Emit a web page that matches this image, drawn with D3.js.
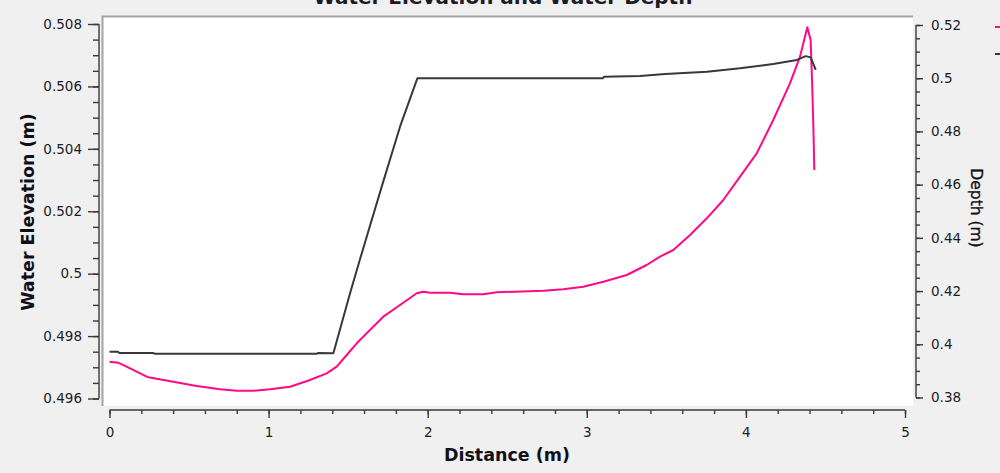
<!DOCTYPE html>
<html><head><meta charset="utf-8">
<script src="https://cdn.jsdelivr.net/npm/d3@7/dist/d3.min.js"></script>
<style>
body{margin:0;background:#f0f0f0;overflow:hidden}
svg{display:block}
text{font-family:"DejaVu Sans",Verdana,sans-serif}
</style>
</head><body>
<svg id="c" width="1000" height="473"></svg>
<script>
// ---- data ----
const elevDistance = [0, 0.053, 0.06, 0.273, 0.286, 1.304, 1.31, 1.407, 1.512, 1.579, 1.711, 1.826, 1.935, 2.454, 3.102, 3.108, 3.334, 3.492, 3.756, 3.963, 4.171, 4.321, 4.376, 4.407, 4.439];
const waterElevation = [0.4975, 0.4975, 0.49746, 0.49746, 0.49743, 0.49743, 0.49746, 0.49745, 0.49937, 0.50054, 0.50279, 0.50471, 0.50626, 0.50626, 0.50626, 0.50631, 0.50633, 0.5064, 0.50647, 0.50658, 0.50672, 0.50685, 0.50697, 0.50693, 0.50653];
const depthDistance = [0, 0.055, 0.129, 0.244, 0.401, 0.548, 0.695, 0.8, 0.904, 1.009, 1.135, 1.26, 1.365, 1.428, 1.491, 1.554, 1.637, 1.721, 1.826, 1.931, 1.972, 2.014, 2.14, 2.224, 2.349, 2.434, 2.727, 2.852, 2.978, 3.104, 3.251, 3.376, 3.46, 3.544, 3.649, 3.754, 3.858, 3.963, 4.068, 4.172, 4.277, 4.34, 4.386, 4.407, 4.417, 4.424, 4.43];
const waterDepth = [0.39345, 0.39308, 0.39097, 0.38759, 0.38594, 0.38432, 0.38308, 0.38256, 0.38256, 0.38308, 0.38406, 0.38658, 0.38909, 0.39158, 0.39597, 0.40037, 0.40537, 0.41037, 0.41476, 0.41916, 0.41976, 0.41939, 0.41939, 0.41879, 0.41879, 0.41954, 0.42014, 0.42066, 0.42164, 0.42352, 0.42604, 0.4298, 0.43292, 0.43544, 0.44107, 0.44735, 0.45423, 0.46299, 0.47178, 0.4843, 0.49809, 0.50809, 0.51914, 0.51436, 0.49681, 0.48178, 0.4655];
const xTicks = [0, 1, 2, 3, 4, 5];
const xTickLabels = ["0", "1", "2", "3", "4", "5"];
const leftTicks = [0.496, 0.498, 0.5, 0.502, 0.504, 0.506, 0.508];
const leftTickLabels = ["0.496", "0.498", "0.5", "0.502", "0.504", "0.506", "0.508"];
const rightTicks = [0.38, 0.4, 0.42, 0.44, 0.46, 0.48, 0.5, 0.52];
const rightTickLabels = ["0.38", "0.4", "0.42", "0.44", "0.46", "0.48", "0.5", "0.52"];
const titleText = "Water Elevation and Water Depth";
const xTitle = "Distance (m)";
const leftTitle = "Water Elevation (m)";
const rightTitle = "Depth (m)";

// ---- layout ----
const svg = d3.select("#c");
const x = d3.scaleLinear().domain([0, 5]).range([109.5, 905]);
const yL = d3.scaleLinear().domain([0.496, 0.508]).range([398.5, 24]);
const yR = d3.scaleLinear().domain([0.38, 0.52]).range([397.5, 25]);
const axisColor = "#3a3a3a";
const textColor = "#1c1c28";

// plot panel
svg.append("rect").attr("x", 102).attr("y", 16).attr("width", 811).attr("height", 390).attr("fill", "#ffffff");
svg.append("path").attr("d", "M102.5,406V16.5H913").attr("fill", "none").attr("stroke", "#a4a4a4").attr("stroke-width", 2);

// title (clipped at top, as in the reference)
svg.append("text").attr("x", 503).attr("y", 4).attr("text-anchor", "middle")
  .attr("font-size", 20).attr("font-weight", "bold").attr("fill", textColor).text(titleText);

function styleAxis(g) {
  g.select(".domain").attr("stroke", axisColor).attr("stroke-width", 1.4);
  g.selectAll(".tick line").attr("stroke", axisColor).attr("stroke-width", 1.4);
  g.selectAll(".tick text").attr("fill", textColor).attr("font-size", 13.5)
    .attr("font-family", "DejaVu Sans, Verdana, sans-serif");
}

// minor + major ticks
const xMinor = d3.range(0, 5.0001, 0.2);
const gxm = svg.append("g").attr("transform", "translate(0,410)")
  .call(d3.axisBottom(x).tickValues(xMinor).tickSize(4).tickFormat(""));
styleAxis(gxm);
const gxM = svg.append("g").attr("transform", "translate(0,410)")
  .call(d3.axisBottom(x).tickValues(xTicks).tickSize(8).tickPadding(9).tickFormat((d, i) => xTickLabels[i]));
styleAxis(gxM);
gxM.select(".domain").remove();
gxm.select(".domain").attr("d", `M${x(0)},0H${x(5)}`);

const lMinor = d3.range(0.496, 0.50801, 0.0005);
const gym = svg.append("g").attr("transform", "translate(99,0)")
  .call(d3.axisLeft(yL).tickValues(lMinor).tickSize(6).tickFormat(""));
styleAxis(gym);
gym.select(".domain").attr("d", `M0,${yL(0.496)}V${yL(0.508)}`);
const gyM = svg.append("g").attr("transform", "translate(99,0)")
  .call(d3.axisLeft(yL).tickValues(leftTicks).tickSize(11).tickPadding(6).tickFormat((d, i) => leftTickLabels[i]));
styleAxis(gyM);
gyM.select(".domain").remove();

const rMinor = d3.range(0.38, 0.52001, 0.005);
const grm = svg.append("g").attr("transform", "translate(916,0)")
  .call(d3.axisRight(yR).tickValues(rMinor).tickSize(4).tickFormat(""));
styleAxis(grm);
grm.select(".domain").attr("d", `M0,${yR(0.38)}V${yR(0.52)}`);
const grM = svg.append("g").attr("transform", "translate(916,0)")
  .call(d3.axisRight(yR).tickValues(rightTicks).tickSize(7).tickPadding(8).tickFormat((d, i) => rightTickLabels[i]));
styleAxis(grM);
grM.select(".domain").remove();

// axis titles
svg.append("text").attr("x", 507).attr("y", 461).attr("text-anchor", "middle")
  .attr("font-size", 17.5).attr("font-weight", "bold").attr("fill", "#101018").text(xTitle);
svg.append("text").attr("transform", "translate(34,212) rotate(-90)").attr("text-anchor", "middle")
  .attr("font-size", 17.5).attr("font-weight", "bold").attr("fill", "#101018").text(leftTitle);
svg.append("text").attr("transform", "translate(971,208) rotate(90)").attr("text-anchor", "middle")
  .attr("font-size", 15.5).attr("fill", "#101018").attr("stroke", "#101018").attr("stroke-width", 0.35).text(rightTitle);

// series
const elevLine = d3.line().x(d => x(d[0])).y(d => yL(d[1]));
const depthLine = d3.line().x(d => x(d[0])).y(d => yR(d[1]));
svg.append("path").datum(depthDistance.map((d, i) => [d, waterDepth[i]]))
  .attr("d", depthLine).attr("fill", "none").attr("stroke", "#ff0a84").attr("stroke-width", 2).attr("stroke-linejoin", "round");
svg.append("path").datum(elevDistance.map((d, i) => [d, waterElevation[i]]))
  .attr("d", elevLine).attr("fill", "none").attr("stroke", "#383838").attr("stroke-width", 2).attr("stroke-linejoin", "round");

// legend (cut off at right edge)
svg.append("line").attr("x1", 995).attr("x2", 1003).attr("y1", 27).attr("y2", 27).attr("stroke", "#ff0a84").attr("stroke-width", 2);
svg.append("line").attr("x1", 995).attr("x2", 1003).attr("y1", 54).attr("y2", 54).attr("stroke", "#383838").attr("stroke-width", 2);
</script>
</body></html>
